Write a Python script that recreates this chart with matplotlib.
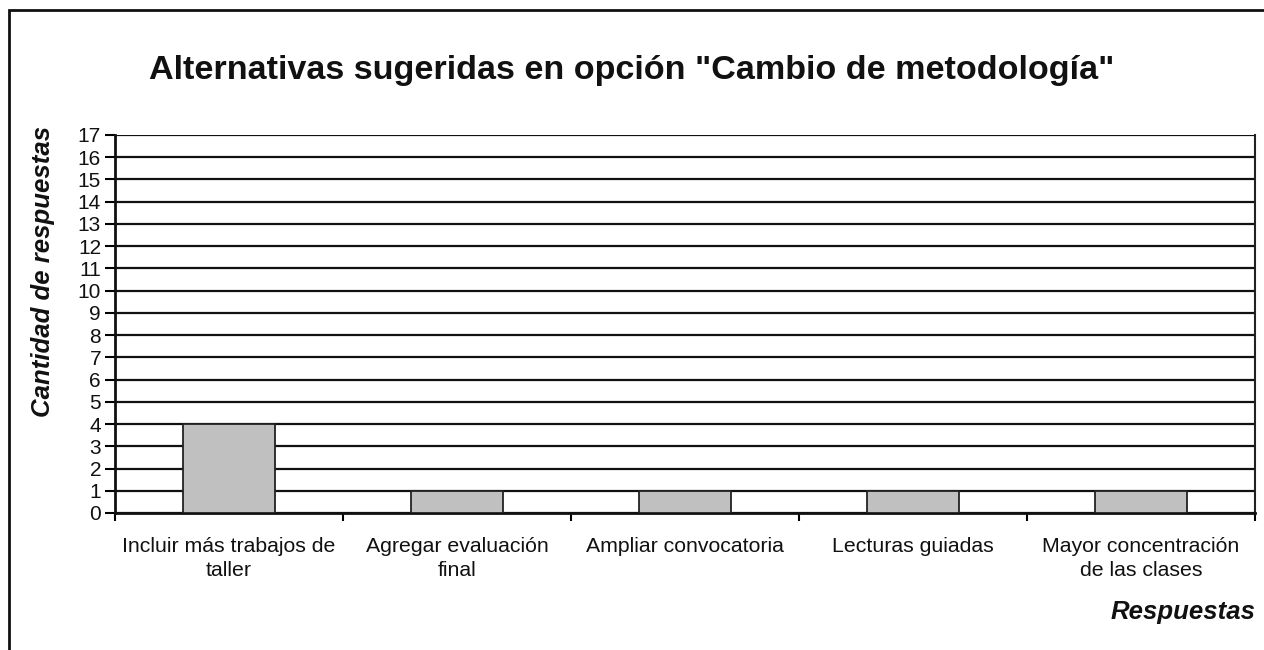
import matplotlib.pyplot as plt
from matplotlib.patches import Rectangle
import numpy as np

categorias = ["Incluir más trabajos de\ntaller", "Agregar evaluación\nfinal",
              "Ampliar convocatoria", "Lecturas guiadas",
              "Mayor concentración\nde las clases"]
respuestas = [4, 1, 1, 1, 1]
yticks = list(range(0, 18))

plt.rcParams['font.family'] = ['Liberation Sans', 'DejaVu Sans']

W, H = 1264, 650
fig = plt.figure(figsize=(W / 100, H / 100), dpi=100)

# marco exterior (solo izquierda y arriba visibles)
fig.patches.append(Rectangle((9 / W, -0.1), 1.2, 1 - 10 / H + 0.1,
                             transform=fig.transFigure, fill=False,
                             edgecolor='#111111', linewidth=2))

ax = fig.add_axes([115 / W, 1 - 513 / H, (1255 - 115) / W, (513 - 135) / H])
x = np.arange(len(categorias))
ax.bar(x, respuestas, width=0.4, color='#c0c0c0', edgecolor='#222222',
       linewidth=1.3, zorder=3)

ax.set_xlim(-0.5, len(categorias) - 0.5)
ax.set_ylim(0, 17)
ax.set_yticks(yticks)
ax.set_yticklabels([str(v) for v in yticks], fontsize=15, color='#111111')
ax.yaxis.grid(True, color='#111111', linewidth=1.6, zorder=0)
ax.set_axisbelow(True)

# ticks en los límites de categoría, etiquetas centradas
ax.set_xticks(np.arange(-0.5, len(categorias)), minor=False)
ax.set_xticklabels([''] * (len(categorias) + 1))
ax.set_xticks(x, minor=True)
ax.set_xticklabels(categorias, minor=True, fontsize=15.3, linespacing=1.33,
                   color='#111111')
ax.tick_params(axis='x', which='major', length=6, width=1.5, direction='out')
ax.tick_params(axis='x', which='minor', length=0, pad=17)
ax.tick_params(axis='y', length=7, width=1.5, direction='out', pad=3)

for s in ['left', 'bottom']:
    ax.spines[s].set_linewidth(2)
    ax.spines[s].set_color('#111111')
ax.spines['right'].set_linewidth(1.5)
ax.spines['right'].set_color('#222222')
ax.spines['top'].set_visible(False)

fig.text(632 / W, 1 - 79 / H, 'Alternativas sugeridas en opción "Cambio de metodología"',
         ha='center', va='baseline', fontsize=24.6, fontweight='bold', color='#111111')
fig.text(43 / W, 1 - 271 / H, 'Cantidad de respuestas', rotation=90,
         ha='center', va='center', fontsize=18.5, fontweight='bold', style='italic',
         color='#111111')
fig.text(1256 / W, 1 - 619 / H, 'Respuestas', ha='right', va='baseline',
         fontsize=18.5, fontweight='bold', style='italic', color='#111111')

fig.savefig('out.png', dpi=100)
